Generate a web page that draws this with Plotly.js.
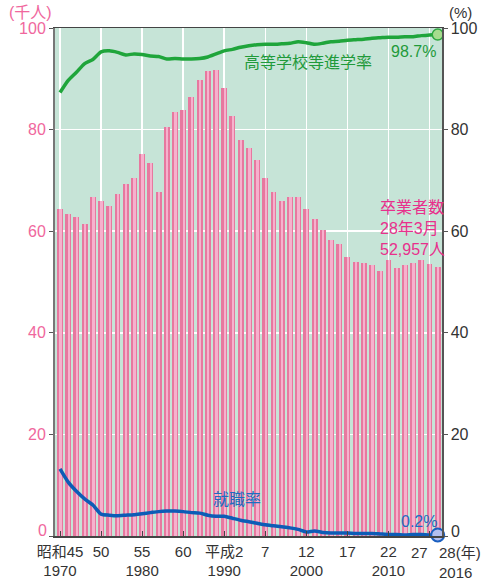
<!DOCTYPE html>
<html>
<head>
<meta charset="utf-8">
<script src="https://cdn.plot.ly/plotly-3.0.1.min.js"></script>
<style>html,body{margin:0;padding:0;background:#fff;}#chart{width:492px;height:582px;}</style>
</head>
<body>
<div id="chart"></div>
<script>
// Years (x categories)
const years = [1970,1971,1972,1973,1974,1975,1976,1977,1978,1979,
               1980,1981,1982,1983,1984,1985,1986,1987,1988,1989,
               1990,1991,1992,1993,1994,1995,1996,1997,1998,1999,
               2000,2001,2002,2003,2004,2005,2006,2007,2008,2009,
               2010,2011,2012,2013,2014,2015,2016];

// 卒業者数 (千人)
const graduates = [64.3,63.3,62.7,61.5,66.7,65.9,65.0,67.4,69.2,70.4,
                   75.1,73.4,67.7,80.5,83.4,83.9,86.4,89.8,91.5,91.8,
                   88.1,82.6,78.0,76.3,74.0,70.5,67.7,66.0,66.8,66.7,
                   64.3,62.4,60.3,58.2,57.4,54.9,53.9,53.8,53.3,52.2,
                   54.3,52.8,53.4,53.8,54.3,53.5,52.957];

// 高等学校等進学率 (%)
const enrollRate = [87.3,89.7,91.3,93.0,93.8,95.3,95.5,95.2,94.7,94.9,
                    94.8,94.5,94.4,93.9,94.0,93.9,93.9,94.0,94.3,94.9,
                    95.5,95.8,96.2,96.5,96.7,96.8,96.8,96.9,97.0,97.3,
                    97.1,96.8,97.0,97.3,97.4,97.6,97.7,97.8,98.0,98.1,
                    98.2,98.2,98.3,98.3,98.5,98.6,98.7];

// 就職率 (%)
const jobRate = [13.2,10.6,8.8,7.3,6.1,4.3,4.1,4.0,4.1,4.2,
                 4.4,4.6,4.8,4.9,4.9,4.8,4.6,4.5,4.1,3.9,
                 3.9,3.5,3.1,2.8,2.5,2.2,2.0,1.8,1.6,1.3,
                 0.8,1.0,0.7,0.6,0.6,0.6,0.5,0.5,0.5,0.4,
                 0.3,0.3,0.2,0.3,0.3,0.2,0.2];

// Axis ticks
const xTickVals = [1970,1975,1980,1985,1990,1995,2000,2005,2010,2015];
const xTickText = ['昭和45<br>1970','50','55<br>1980','60','平成2<br>1990','7','12<br>2000','17','22<br>2010',''];
const yTickVals = [0,20,40,60,80,100];
const yTickText = ['','20','40','60','80','100'];

const last = years.length - 1;
const FONT = 'Liberation Sans, Noto Sans CJK JP, sans-serif';

const traces = [
  {type:'bar', x:years, y:graduates, width:0.72, offset:-0.36,
   marker:{color:'#e7789f', line:{width:0}}, hoverinfo:'skip'},
  {type:'bar', x:years, y:graduates, width:0.28, offset:-0.08,
   marker:{color:'#f6b1cd', line:{width:0}}, hoverinfo:'skip'},
  {type:'scatter', mode:'lines', x:years, y:enrollRate, yaxis:'y2',
   line:{color:'#1fa53b', width:3.5, shape:'spline', smoothing:0.6}},
  {type:'scatter', mode:'lines', x:years, y:jobRate, yaxis:'y2',
   line:{color:'#0d5cb6', width:3.5, shape:'spline', smoothing:0.6}, cliponaxis:false},
  {type:'scatter', mode:'markers', x:[years[last]], y:[enrollRate[last]], yaxis:'y2', cliponaxis:false,
   marker:{size:11, color:'#a6dc8e', line:{color:'#2ea840', width:1.5}}},
  {type:'scatter', mode:'markers', x:[years[last]], y:[jobRate[last]], yaxis:'y2', cliponaxis:false,
   marker:{size:13, color:'#b3bff0', line:{color:'#1a5fc0', width:2}}}
];

const layout = {
  width:492, height:582,
  margin:{l:55, r:50, t:28, b:46, pad:0},
  paper_bgcolor:'#ffffff', plot_bgcolor:'#c6e4d7',
  barmode:'overlay', bargap:0, showlegend:false,
  font:{family:FONT, size:15, color:'#333'},
  xaxis:{range:[1969.39,2016.52], tickmode:'array', tickvals:xTickVals, ticktext:xTickText,
         ticks:'inside', ticklen:5, tickcolor:'#444', tickwidth:1,
         showline:true, linecolor:'#444', linewidth:1.5, mirror:true,
         showgrid:true, gridcolor:'#ffffff', gridwidth:1.5, zeroline:false,
         tickfont:{family:FONT, size:15, color:'#333'}, ticklabelstandoff:1},
  yaxis:{range:[0,100], tickmode:'array', tickvals:yTickVals, ticktext:yTickText,
         ticks:'outside', ticklen:4, tickcolor:'#555',
         showline:true, linecolor:'#777', linewidth:2,
         showgrid:true, gridcolor:'#ffffff', gridwidth:1.5, zeroline:false,
         tickfont:{family:FONT, size:16, color:'#f0679d'}},
  yaxis2:{range:[0,100], overlaying:'y', side:'right', tickmode:'array', tickvals:yTickVals, ticktext:yTickText,
          ticks:'outside', ticklen:4, tickcolor:'#555',
          showline:true, linecolor:'#555', linewidth:1.5, showgrid:false, zeroline:false,
          tickfont:{family:FONT, size:16, color:'#333'}},
  annotations:[
    {xref:'x', yref:'y', x:2000.2, y:93.3, text:'高等学校等進学率', showarrow:false,
     font:{family:FONT, size:16, color:'#1f9a3a'}},
    {xref:'x', yref:'y', x:2013.1, y:95.3, text:'98.7%', showarrow:false,
     font:{family:FONT, size:16, color:'#1f9a3a'}},
    {xref:'x', yref:'y', x:2008.7, y:60.6, xanchor:'left', align:'left', showarrow:false,
     text:'卒業者数<br>28年3月<br>52,957人', font:{family:FONT, size:16, color:'#e8308c'}},
    {xref:'x', yref:'y', x:1991.5, y:7.1, text:'就職率', showarrow:false,
     font:{family:FONT, size:16, color:'#1e6cc0'}},
    {xref:'x', yref:'y', x:2013.7, y:2.8, text:'0.2%', showarrow:false,
     font:{family:FONT, size:16, color:'#1e6cc0'}},
    {xref:'paper', yref:'paper', x:-0.063, y:1.031, xanchor:'center', yanchor:'middle',
     text:'(千人)', showarrow:false, font:{family:FONT, size:16, color:'#f0679d'}},
    {xref:'paper', yref:'paper', x:1.047, y:1.031, xanchor:'center', yanchor:'middle',
     text:'(%)', showarrow:false, font:{family:FONT, size:15, color:'#333'}},
    {xref:'paper', yref:'paper', x:-0.016, y:0.0118, xanchor:'right', yanchor:'middle',
     text:'0', showarrow:false, font:{family:FONT, size:16, color:'#f0679d'}},
    {xref:'paper', yref:'paper', x:1.018, y:0.008, xanchor:'left', yanchor:'middle',
     text:'0', showarrow:false, font:{family:FONT, size:16, color:'#333'}},
    {xref:'x', yref:'paper', x:2015.05, y:-0.012, yanchor:'top', xanchor:'right', text:'27', showarrow:false,
     font:{family:FONT, size:15, color:'#333'}},
    {xref:'x', yref:'paper', x:2015.9, y:-0.012, yanchor:'top', xanchor:'left', align:'left',
     text:'28(年)<br>2016', showarrow:false, font:{family:FONT, size:15, color:'#333'}}
  ]
};

Plotly.newPlot('chart', traces, layout, {staticPlot:true, displayModeBar:false});
</script>
</body>
</html>
